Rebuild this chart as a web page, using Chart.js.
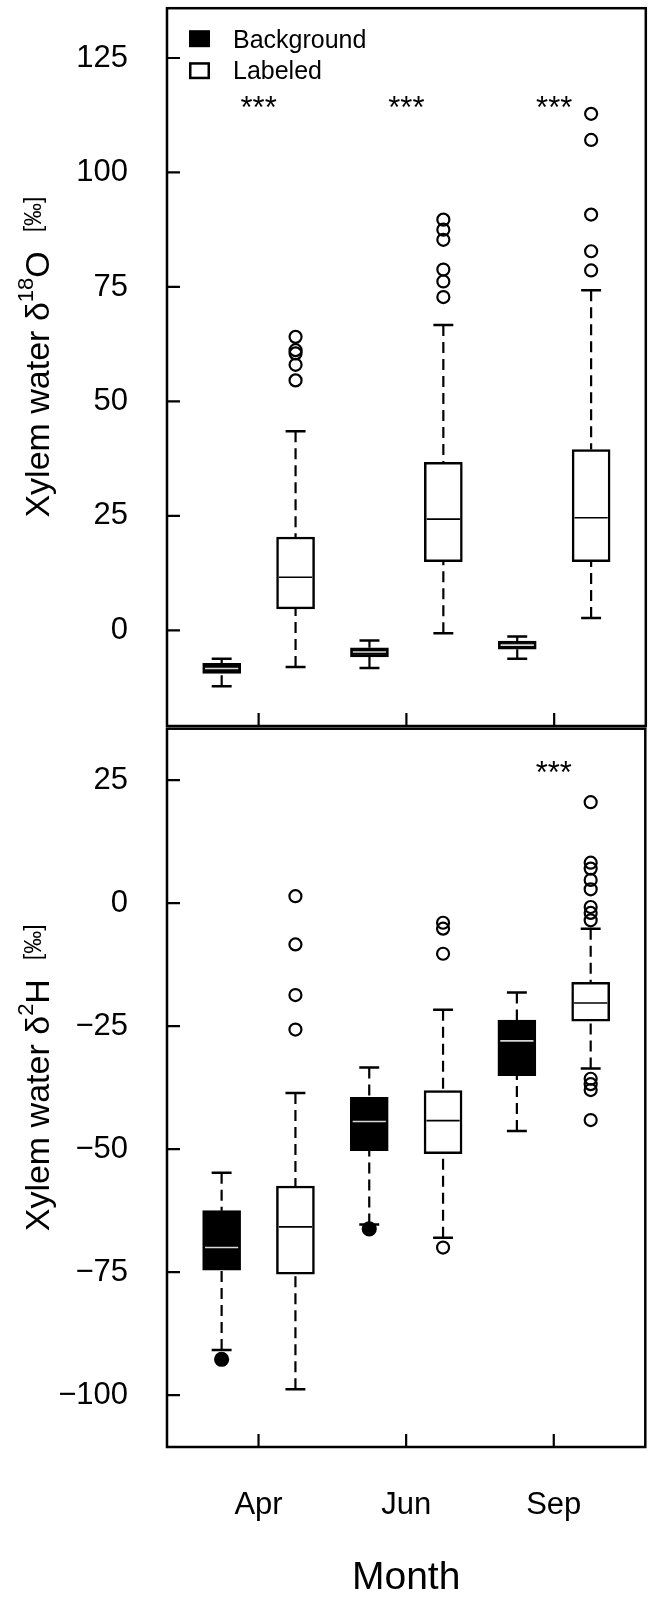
<!DOCTYPE html>
<html>
<head>
<meta charset="utf-8">
<script src="https://cdn.jsdelivr.net/npm/chart.js@4.4.1/dist/chart.umd.min.js"></script>
<style>
html, body { margin: 0; padding: 0; background: #fff; }
#wrap { position: relative; width: 654px; height: 1598px; overflow: hidden; }
canvas { position: absolute; left: 0; }
#c1 { top: 0; }
#c2 { top: 720px; }
</style>
</head>
<body>
<div id="wrap">
  <canvas id="c1" width="654" height="740"></canvas>
  <canvas id="c2" width="654" height="878"></canvas>
</div>
<script>
// ---------------- data ----------------
const months = ['Apr', 'Jun', 'Sep'];
const seriesNames = ['Background', 'Labeled'];

// five-number summaries: [lower whisker, Q1, median, Q3, upper whisker]
const o18Background = [[-12.2, -9.4, -8.3, -7.2, -6.2], [-8.2, -5.8, -4.7, -3.8, -2.2], [-6.2, -4.1, -3.2, -2.3, -1.3]];
const o18Labeled    = [[-8.0, 4.7, 11.6, 20.4, 43.5], [-0.6, 15.0, 24.3, 36.7, 66.7], [2.7, 15.0, 24.6, 39.5, 74.3]];
const o18BackgroundOut = [[], [], []];
const o18LabeledOut    = [[64.1, 61.2, 60.5, 58.0, 54.6], [89.7, 87.5, 85.3, 78.8, 76.2, 72.8], [112.8, 107.1, 90.8, 82.8, 78.6]];

const h2Background = [[-90.8, -74.6, -70.0, -62.5, -54.8], [-65.3, -50.3, -44.4, -39.5, -33.4], [-46.3, -35.1, -28.0, -23.8, -18.2]];
const h2Labeled    = [[-98.8, -75.4, -65.8, -57.5, -38.6], [-68.0, -50.9, -44.2, -38.1, -21.7], [-33.6, -24.0, -20.3, -16.1, -5.2]];
const h2BackgroundOut = [[-92.7], [-66.2], []];
const h2LabeledOut    = [[1.4, -8.4, -18.7, -25.7], [-4.0, -5.2, -10.3, -70.0],
                         [20.5, 8.2, 7.0, 4.7, 2.8, -0.8, -2.0, -3.5, -35.7, -36.8, -38.0, -44.1]];

const o18Ticks = [0, 25, 50, 75, 100, 125];
const h2Ticks = [-100, -75, -50, -25, 0, 25];
const o18Signif = ['***', '***', '***'];
const h2Signif = ['', '', '***'];
const o18SignifAt = [114.8, 114.8, 114.8];
const h2SignifAt = [27.0, 27.0, 27.0];

// ---------------- helpers ----------------
const FONT = "'Liberation Sans', Arial, Helvetica, sans-serif";
const monthTicks = months.map((m, i) => 2 * i + 1.5);
const boxPos = (i, s) => 2 * i + 1 + s;
const fmt = v => (v < 0 ? '\u2212' + Math.abs(v) : String(v));

function buildDatasets(stats, outliers, s, filled, name) {
  const pos = months.map((m, i) => boxPos(i, s));
  const capHalf = 0.135, medHalf = 0.225;
  const whisk = [], caps = [], meds = [];
  stats.forEach((st, i) => {
    const x = pos[i];
    whisk.push({x, y: st[4]}, {x, y: st[3]}, {x, y: null}, {x, y: st[0]}, {x, y: st[1]}, {x, y: null});
    caps.push({x: x - capHalf, y: st[4]}, {x: x + capHalf, y: st[4]}, {x, y: null},
              {x: x - capHalf, y: st[0]}, {x: x + capHalf, y: st[0]}, {x, y: null});
    meds.push({x: x - medHalf, y: st[2]}, {x: x + medHalf, y: st[2]}, {x, y: null});
  });
  const outs = [];
  outliers.forEach((arr, i) => arr.forEach(v => outs.push({x: pos[i], y: v})));
  const lineBase = {type: 'line', pointRadius: 0, pointHoverRadius: 0, spanGaps: false, fill: false, tension: 0};
  return [
    {type: 'bar', label: name, data: stats.map((st, i) => ({x: pos[i], y: [st[1], st[3]]})),
     backgroundColor: filled ? '#000' : '#fff', borderColor: '#000', borderWidth: 2.5,
     borderSkipped: false, barThickness: 38, grouped: false, order: 3},
    Object.assign({label: name + ' whiskers', data: whisk, borderColor: '#000', borderWidth: 2.2, borderDash: [11, 6], order: 4}, lineBase),
    Object.assign({label: name + ' caps', data: caps, borderColor: '#000', borderWidth: 2.5, order: 4}, lineBase),
    Object.assign({label: name + ' medians', data: meds, borderColor: filled ? '#d8d8d8' : '#000', borderWidth: 1.6, order: 1}, lineBase),
    {type: 'scatter', label: name + ' outliers', data: outs, pointStyle: 'circle',
     pointRadius: filled ? 6.5 : 6, pointBorderWidth: 2.2, pointBorderColor: '#000',
     pointBackgroundColor: filled ? '#000' : 'rgba(0,0,0,0)', order: 0}
  ];
}

const framePlugin = {
  id: 'frame',
  afterDatasetsDraw(chart, args, opts) {
    const {ctx, chartArea: a, scales} = chart;
    ctx.save();
    ctx.strokeStyle = '#000';
    ctx.lineWidth = 2.5;
    ctx.strokeRect(a.left, a.top, a.right - a.left, a.bottom - a.top);
    ctx.lineWidth = 2.2;
    ctx.beginPath();
    scales.y.ticks.forEach(t => {
      const p = scales.y.getPixelForValue(t.value);
      ctx.moveTo(a.left, p); ctx.lineTo(a.left + 13, p);
    });
    monthTicks.forEach(v => {
      const p = scales.x.getPixelForValue(v);
      ctx.moveTo(p, a.bottom); ctx.lineTo(p, a.bottom - 13);
    });
    ctx.stroke();

    // significance stars
    ctx.fillStyle = '#000';
    ctx.font = '31px ' + FONT;
    ctx.textAlign = 'center';
    ctx.textBaseline = 'alphabetic';
    opts.signif.forEach((txt, i) => {
      if (!txt) return;
      const x = scales.x.getPixelForValue(monthTicks[i]);
      const y = scales.y.getPixelForValue(opts.signifAt[i]);
      ctx.fillText(txt, x, y + 31 * 0.42);
    });

    // legend
    if (opts.legend) {
      const lx = a.left + 22, ly = a.top + 22;
      ctx.fillRect(lx, ly, 21, 17);
      ctx.lineWidth = 2.5;
      ctx.strokeRect(lx + 1.25, ly + 32 + 1.25, 21 - 2.5, 17 - 2.5);
      ctx.font = '25px ' + FONT;
      ctx.textAlign = 'left';
      ctx.fillText(seriesNames[0], lx + 44, ly + 18);
      ctx.fillText(seriesNames[1], lx + 44, ly + 49);
    }

    // y-axis title with superscript
    const parts = opts.title;
    const yc = (a.top + a.bottom) / 2 - 10;
    ctx.save();
    ctx.translate(49, yc);
    ctx.rotate(-Math.PI / 2);
    let total = 0;
    parts.forEach(p => { ctx.font = p.size + 'px ' + FONT; p.w = ctx.measureText(p.text).width; total += p.w; });
    let cx = -total / 2;
    ctx.textAlign = 'left';
    ctx.textBaseline = 'alphabetic';
    parts.forEach(p => { ctx.font = p.size + 'px ' + FONT; ctx.fillText(p.text, cx, -(p.rise || 0)); cx += p.w; });
    ctx.restore();
    ctx.restore();
  }
};

function makeChart(canvasId, cfg) {
  const datasets = [
    ...buildDatasets(cfg.bg, cfg.bgOut, 0, true, seriesNames[0]),
    ...buildDatasets(cfg.lab, cfg.labOut, 1, false, seriesNames[1])
  ];
  return new Chart(document.getElementById(canvasId), {
    type: 'bar',
    data: {datasets},
    plugins: [framePlugin],
    options: {
      responsive: false,
      animation: false,
      events: [],
      layout: {padding: cfg.padding},
      plugins: {
        legend: {display: false},
        tooltip: {enabled: false},
        frame: {signif: cfg.signif, signifAt: cfg.signifAt, legend: cfg.legend, title: cfg.title}
      },
      scales: {
        x: {
          type: 'linear', min: 0.26, max: 6.74, offset: false,
          display: cfg.showX,
          grid: {display: false, drawTicks: false, offset: false},
          border: {display: false},
          afterBuildTicks: s => { s.ticks = monthTicks.map(v => ({value: v})); },
          ticks: {callback: (v, i) => months[i], color: '#000', padding: 43,
                  font: {family: FONT, size: 31, lineHeight: 1}, maxRotation: 0, autoSkip: false},
          title: {display: true, text: 'Month', color: '#000', padding: 0,
                  font: {family: FONT, size: 39, lineHeight: 1}},
          afterFit: s => {
            s.height = cfg.showX ? 151 : 0;
            s.paddingLeft = 0; s.paddingRight = 0; s.paddingTop = 0; s.paddingBottom = 0;
          }
        },
        y: {
          type: 'linear', min: cfg.yMin, max: cfg.yMax,
          grid: {display: false, drawTicks: false},
          border: {display: false},
          afterBuildTicks: s => { s.ticks = cfg.ticks.map(v => ({value: v})); },
          ticks: {callback: v => fmt(v), color: '#000', padding: 39,
                  font: {family: FONT, size: 31, lineHeight: 1}},
          afterFit: s => {
            s.width = 167;
            s.paddingLeft = 0; s.paddingRight = 0; s.paddingTop = 0; s.paddingBottom = 0;
          }
        }
      }
    }
  });
}

makeChart('c1', {
  bg: o18Background, bgOut: o18BackgroundOut, lab: o18Labeled, labOut: o18LabeledOut,
  ticks: o18Ticks, yMin: -20.87, yMax: 135.87, showX: false,
  padding: {left: 0, right: 7, top: 5, bottom: 14},
  signif: o18Signif, signifAt: o18SignifAt, legend: true,
  title: [{text: 'Xylem water \u03B4', size: 34}, {text: '18', size: 22, rise: 16},
          {text: 'O  ', size: 34}, {text: '[\u2030]', size: 23, rise: 8}]
});

makeChart('c2', {
  bg: h2Background, bgOut: h2BackgroundOut, lab: h2Labeled, labOut: h2LabeledOut,
  ticks: h2Ticks, yMin: -110.53, yMax: 35.43, showX: true,
  padding: {left: 0, right: 7, top: 6, bottom: 0},
  signif: h2Signif, signifAt: h2SignifAt, legend: false,
  title: [{text: 'Xylem water \u03B4', size: 34}, {text: '2', size: 22, rise: 16},
          {text: 'H  ', size: 34}, {text: '[\u2030]', size: 23, rise: 8}]
});
</script>
</body>
</html>
